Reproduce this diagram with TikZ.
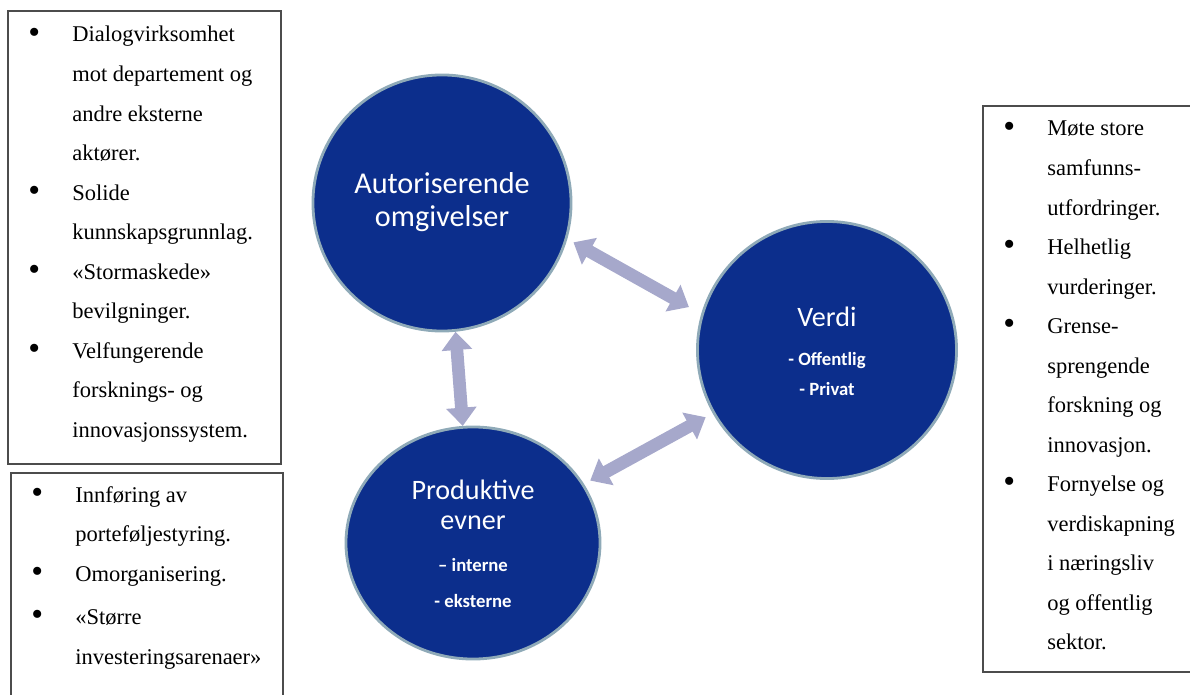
\documentclass[tikz,border=0pt]{standalone}
\usepackage{fontspec}
\setmainfont{Liberation Serif}
\newfontfamily\calib{Carlito}
\usetikzlibrary{shapes.geometric, arrows.meta, positioning}
\definecolor{navyfill}{RGB}{12,46,140}
\definecolor{ringblue}{RGB}{143,170,184}
\definecolor{arrowgray}{RGB}{166,168,203}
\newcommand{\listdot}{\raisebox{-0.1ex}{\scalebox{1.5}{\textbullet}}}
\tikzset{
    bigcircle/.style={ellipse, fill=navyfill, draw=ringblue, line width=2pt, inner sep=0pt},
    titletext/.style={text=white, align=center, font=\calib\fontsize{20}{22}\selectfont},
    subtext/.style={text=white, align=center, font=\calib\bfseries\fontsize{13.3}{#1}\selectfont},
    listbox/.style={draw=black!70, line width=1.2pt, inner sep=0pt},
    listtext/.style={anchor=base west, inner sep=0pt, font=\fontsize{16}{28.1}\selectfont},
    biarrow/.style={{Triangle[width=21pt,length=13pt]}-{Triangle[width=21pt,length=13pt]}, line width=9pt, draw=arrowgray}
}
\begin{document}
\begin{tikzpicture}[x=0.025cm, y=-0.025cm]
    \useasboundingbox (0,0) rectangle (1190,695);
    \clip (0,0) rectangle (1190,695);

    \node[listbox, minimum width=6.825cm, minimum height=11.325cm] (boxL) at (144.5,237.5) {};
    \node[listbox, minimum width=6.8cm, minimum height=5.975cm] (boxB) at (147,592.5) {};
    \node[listbox, minimum width=5.425cm, minimum height=14.15cm] (boxR) at (1091.5,389) {};

    \node[listtext] (textL) at (28,42) {\begin{tabular}[t]{@{}p{31.3pt}@{}l@{}}
        \listdot & Dialogvirksomhet\\
         & mot departement og\\
         & andre eksterne\\
         & aktører.\\
        \listdot & Solide\\
         & kunnskapsgrunnlag.\\
        \listdot & «Stormaskede»\\
         & bevilgninger.\\
        \listdot & Velfungerende\\
         & forsknings- og\\
         & innovasjonssystem.
    \end{tabular}};
    \node[listtext] (textB) at (31,502) {\begin{tabular}[t]{@{}p{31.3pt}@{}l@{}}
        \listdot & Innføring av\\
         & porteføljestyring.\\
        \listdot & Omorganisering.\\[3pt]
        \listdot & «Større\\
         & investeringsarenaer»
    \end{tabular}};
    \node[listtext] (textR) at (1003,136) {\begin{tabular}[t]{@{}p{31.3pt}@{}l@{}}
        \listdot & Møte store\\
         & samfunns-\\
         & utfordringer.\\
        \listdot & Helhetlig\\
         & vurderinger.\\
        \listdot & Grense-\\
         & sprengende\\
         & forskning og\\
         & innovasjon.\\
        \listdot & Fornyelse og\\
         & verdiskapning\\
         & i næringsliv\\
         & og offentlig\\
         & sektor.
    \end{tabular}};

    \node[bigcircle, minimum width=6.45cm, minimum height=6.4cm] (aut) at (442,203) {};
    \node[bigcircle, minimum width=6.475cm, minimum height=6.425cm] (ver) at (827,350) {};
    \node[bigcircle, minimum width=6.35cm, minimum height=5.8cm] (prod) at (473,543) {};

    \node[titletext, font=\calib\fontsize{21.5}{23}\selectfont] (autT) at (442,202) {Autoriserende\\omgivelser};
    \node[titletext] (verT) at (827,317) {Verdi};
    \node[subtext=22pt] (verL) at (827,374) {- Offentlig\\- Privat};
    \node[titletext, font=\calib\fontsize{20}{21.3}\selectfont] (prodT) at (473,505) {Produktive\\evner};
    \node[subtext=25pt] (prodL) at (473,583) {– interne\\- eksterne};

    \draw[biarrow, shorten <=5pt, shorten >=10pt] (aut.-16) -- (ver.164);
    \draw[biarrow] (aut.-84) -- (prod.95);
    \draw[biarrow, shorten <=5pt, shorten >=5.7pt] (prod.28) -- (ver.209);
\end{tikzpicture}
\end{document}
